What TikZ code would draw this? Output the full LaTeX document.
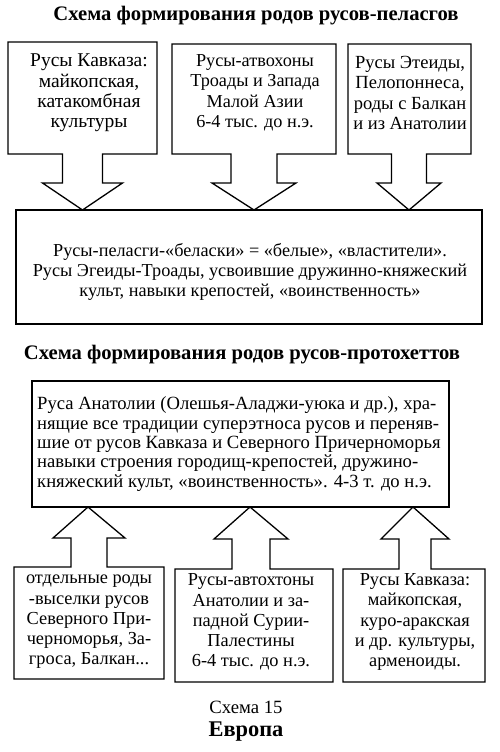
\documentclass[tikz,border=0pt]{standalone}
\usepackage{fontspec}
\setmainfont{Liberation Serif}
\newcommand\mycallout[9]{%
  % #1 L, #2 R, #3 far side y, #4 arrow side y, #5 cx, #6 stem half, #7 wing half, #8 wing y, #9 tip name
  \draw[outline] (#1,#3) -- (#2,#3) -- (#2,#4) -- ({#5+#6},#4) -- ({#5+#6},#8) -- ({#5+#7},#8)
     -- (#9) -- ({#5-#7},#8) -- ({#5-#6},#8) -- ({#5-#6},#4) -- (#1,#4) -- cycle;}
\begin{document}
\begin{tikzpicture}[x=1bp,y=-1bp,
  outline/.style={line width=1.3bp, line join=miter},
  boxed/.style={draw, line width=1.3bp, inner sep=0pt},
  txttop/.style={inner sep=0pt, align=center, font=\fontsize{#1}{20.5}\selectfont},
  txtbig/.style={inner sep=0pt, align=center, font=\fontsize{18.3}{20.3}\selectfont},
  txtmid/.style={inner sep=0pt, align=left, font=\fontsize{18.7}{19.5}\selectfont},
  txtsmall/.style={inner sep=0pt, align=center, font=\fontsize{18.4}{20.3}\selectfont},
  ttl/.style={inner sep=0pt, font=\fontsize{20.7}{22}\selectfont\bfseries}]
\useasboundingbox (0,0) rectangle (500,752);
\fill[white] (0,0) rectangle (500,752);

% ---------- first scheme ----------
\node[ttl] (title1) at (256,16) {Схема формирования родов русов-пеласгов};

\node[boxed, minimum width=466bp, minimum height=114bp] (big) at (249,267) {};
\coordinate (tipA) at (82.5,210);
\coordinate (tipB) at (254,210);
\coordinate (tipC) at (409,210);
\mycallout{8}{157}{42}{154}{82.5}{20}{40}{183}{tipA}
\mycallout{172}{336}{44}{154}{254}{23}{42}{183}{tipB}
\mycallout{348}{471}{44}{154}{409}{17.5}{32}{183}{tipC}

\node[txttop=19.6] (a1) at (89,93) {Русы Кавказа:\\майкопская,\\катакомбная\\культуры};
\node[txttop=18.3] (a2) at (255,93) {Русы-атвохоны\\Троады и Запада\\Малой Азии\\6-4 тыс. до н.э.};
\node[txttop=18.6] (a3) at (410,93) {Русы Этеиды,\\Пелопоннеса,\\роды с Балкан\\и из Анатолии};

\node[txtbig] (bigtext) at (250,272) {Русы-пеласги-«беласки» = «белые», «властители».\\Русы Эгеиды-Троады, усвоившие дружинно-княжеский\\культ, навыки крепостей, «воинственность»};

% ---------- second scheme ----------
\node[ttl] (title2) at (242,355) {Схема формирования родов русов-протохеттов};

\node[boxed, minimum width=417bp, minimum height=126bp] (mid) at (240.5,444) {};
\node[txtmid, anchor=west] (midtext) at (37,444) {Руса Анатолии (Олешья-Аладжи-уюка и др.), хра-\\нящие все традиции суперэтноса русов и переняв-\\шие от русов Кавказа и Северного Причерноморья\\навыки строения городищ-крепостей, дружино-\\княжеский культ, «воинственность». 4-3 т. до н.э.};

\coordinate (tipD) at (88,507);
\coordinate (tipE) at (250,507);
\coordinate (tipF) at (413,507);
\mycallout{14}{164}{679}{567}{89}{18}{36}{538}{tipD}
\mycallout{175}{333}{682}{569}{251}{19}{37}{539}{tipE}
\mycallout{343}{485}{682}{569}{415}{16}{34}{539}{tipF}

\node[txtsmall] (c1) at (89,622) {отдельные роды\\-выселки русов\\Северного При-\\черноморья, За-\\гроса, Балкан...};
\node[txtsmall] (c2) at (251,622) {Русы-автохтоны\\Анатолии и за-\\падной Сурии-\\Палестины\\6-4 тыс. до н.э.};
\node[txtsmall] (c3) at (415,622) {Русы Кавказа:\\майкопская,\\куро-аракская\\и др. культуры,\\арменоиды.};

% ---------- caption ----------
\node[inner sep=0pt, font=\fontsize{18.8}{20}\selectfont] (cap1) at (246,707) {Схема 15};
\node[inner sep=0pt, font=\fontsize{22.5}{24}\selectfont\bfseries] (cap2) at (246,732) {Европа};
\end{tikzpicture}
\end{document}
